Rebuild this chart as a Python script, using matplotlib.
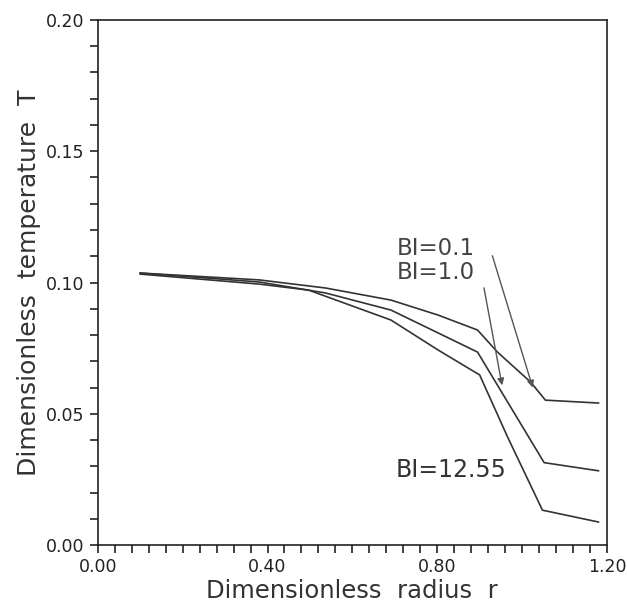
from matplotlib import pyplot as plt
from matplotlib.ticker import MultipleLocator

# perfis de temperatura
r_01 = [0.10, 0.38, 0.537, 0.691, 0.802, 0.895, 0.942, 1.020, 1.055, 1.18]
T_01 = [0.1036, 0.1010, 0.0979, 0.0933, 0.0876, 0.0819, 0.0735, 0.0621, 0.0552, 0.0541]

r_10 = [0.10, 0.38, 0.537, 0.691, 0.802, 0.895, 1.052, 1.18]
T_10 = [0.1036, 0.1002, 0.0960, 0.0895, 0.0808, 0.0735, 0.0314, 0.0283]

r_1255 = [0.10, 0.38, 0.497, 0.691, 0.802, 0.900, 0.966, 1.048, 1.18]
T_1255 = [0.1032, 0.0994, 0.0971, 0.0857, 0.0743, 0.0648, 0.0411, 0.0133, 0.0088]

cor = '#333333'

fig = plt.figure(figsize=(6.27, 6.03), dpi=100)
ax = fig.add_axes([0.156, 0.096, 0.812, 0.871])

ax.plot(r_01, T_01, color=cor, lw=1.2)
ax.plot(r_10, T_10, color=cor, lw=1.2)
ax.plot(r_1255, T_1255, color=cor, lw=1.2)

# rotulos e setas
ax.text(0.705, 0.1131, 'BI=0.1', fontsize=16.5, color='#444444', va='center')
ax.text(0.705, 0.1040, 'BI=1.0', fontsize=16.5, color='#444444', va='center')
ax.text(0.703, 0.0286, 'BI=12.55', fontsize=17, color='#333333', va='center')

seta = dict(arrowstyle='-|>', color='#555555', lw=1.0, mutation_scale=10)
ax.annotate('', xy=(1.027, 0.0590), xytext=(0.928, 0.1112), arrowprops=seta)
ax.annotate('', xy=(0.954, 0.0598), xytext=(0.909, 0.0990), arrowprops=seta)

ax.set_xlim(0, 1.2)
ax.set_ylim(0, 0.2)
ax.set_xticks([0, 0.4, 0.8, 1.2])
ax.set_xticklabels(['0.00', '0.40', '0.80', '1.20'])
ax.set_yticks([0, 0.05, 0.1, 0.15, 0.2])
ax.set_yticklabels(['0.00', '0.05', '0.10', '0.15', '0.20'])
ax.xaxis.set_minor_locator(MultipleLocator(0.04))
ax.yaxis.set_minor_locator(MultipleLocator(0.01))
ax.tick_params(which='both', direction='out', length=6, width=1.2, labelsize=12.5, colors='#222222')

for s in ax.spines.values():
    s.set_linewidth(1.2)
    s.set_color('#222222')

ax.set_xlabel('Dimensionless  radius  r', fontsize=17.5, color='#333333', labelpad=2)
ax.set_ylabel('Dimensionless  temperature  T', fontsize=18, color='#333333', labelpad=4)

fig.savefig('out.png', dpi=100)
